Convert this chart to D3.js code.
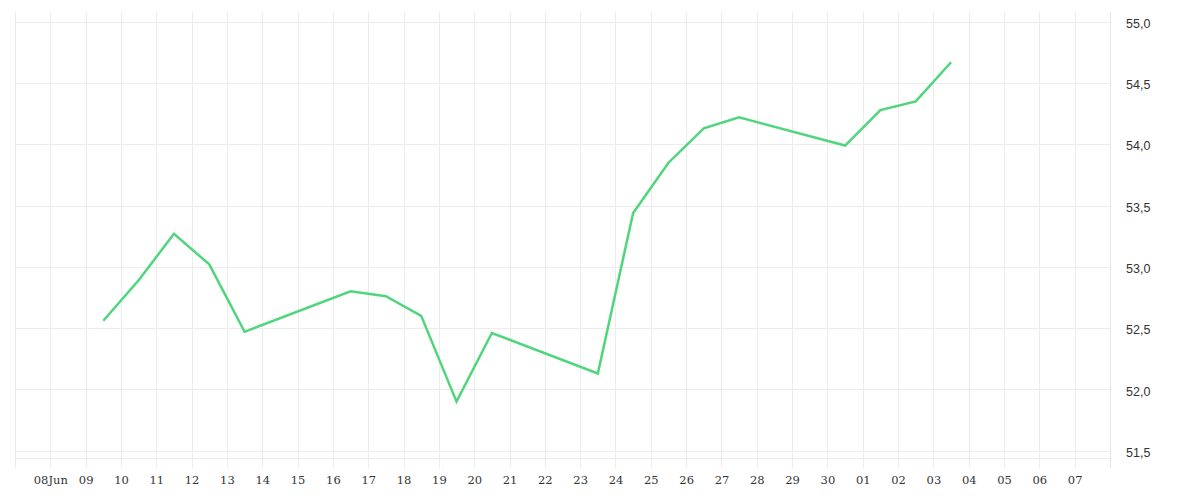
<!DOCTYPE html>
<html>
<head>
<meta charset="utf-8">
<script src="https://cdn.jsdelivr.net/npm/d3@7"></script>
<style>
html,body{margin:0;padding:0;background:#fff;}
svg{display:block;}
</style>
</head>
<body>
<svg id="chart" width="1200" height="500"></svg>
<script>
// Data: dates (noon of each trading day) and values
const dates = ["2025-06-09","2025-06-10","2025-06-11","2025-06-12","2025-06-13",
  "2025-06-16","2025-06-17","2025-06-18","2025-06-19","2025-06-20",
  "2025-06-23","2025-06-24","2025-06-25","2025-06-26","2025-06-27",
  "2025-06-30","2025-07-01","2025-07-02","2025-07-03"];
const values = [52.56,52.89,53.27,53.02,52.47,
  52.80,52.76,52.60,51.90,52.46,
  52.13,53.44,53.85,54.13,54.22,
  53.99,54.28,54.35,54.67];
const yTicks = [51.5,52.0,52.5,53.0,53.5,54.0,54.5,55.0];
const xDomain = ["2025-06-07","2025-07-08"];
const yDomain = [51.44,55.08];

(function(){
const parse = d3.utcParse("%Y-%m-%d");
const data = dates.map((d,i)=>({date: d3.utcHour.offset(parse(d),12), value: values[i]}));

const svg = d3.select("#chart");
const mLeft = 15, mRight = 1110, mTop = 12, mBottom = 458;

const x = d3.scaleUtc().domain(xDomain.map(parse)).range([mLeft,mRight]);
const y = d3.scaleLinear().domain(yDomain).range([mBottom,mTop]);

const gridColor = "#ececec";
const days = d3.utcDay.range(parse(xDomain[0]), d3.utcDay.offset(parse(xDomain[1]),1));

// vertical grid
svg.append("g").selectAll("line").data(days).join("line")
  .attr("x1",d=>Math.round(x(d))+0.5).attr("x2",d=>Math.round(x(d))+0.5)
  .attr("y1",mTop).attr("y2",468)
  .attr("stroke",gridColor).attr("stroke-width",1);

// horizontal grid
svg.append("g").selectAll("line").data(yTicks).join("line")
  .attr("x1",mLeft).attr("x2",mRight)
  .attr("y1",d=>Math.round(y(d))+0.5).attr("y2",d=>Math.round(y(d))+0.5)
  .attr("stroke",gridColor).attr("stroke-width",1);

// bottom baseline
svg.append("line").attr("x1",mLeft).attr("x2",mRight)
  .attr("y1",mBottom+0.5).attr("y2",mBottom+0.5)
  .attr("stroke",gridColor);

// right axis
const yAxis = d3.axisRight(y).tickValues(yTicks)
  .tickFormat(d=>d3.format(".1f")(d).replace(".",","))
  .tickSize(0).tickPadding(16);
const gy = svg.append("g").attr("transform",`translate(${mRight},0)`).call(yAxis);
gy.select(".domain").attr("d",`M0.5,${mTop}V468`).attr("stroke","#e6e6e6");
gy.selectAll("text").attr("font-family","'Liberation Sans', Arial, sans-serif")
  .attr("font-size",12.5).attr("fill","#333").attr("dy","0.45em");

// bottom axis labels
const labelDays = days.filter(d=>d>parse(xDomain[0]) && d<parse(xDomain[1]));
const xAxis = d3.axisBottom(x).tickValues(labelDays)
  .tickFormat(d=>{
    const s = d3.utcFormat("%d")(d);
    return (d.getUTCDate()===8 && d.getUTCMonth()===5) ? s + "Jun" : s;
  })
  .tickSize(0).tickPadding(18);
const gx = svg.append("g").attr("transform",`translate(0,${mBottom})`).call(xAxis);
gx.select(".domain").remove();
gx.selectAll("text").attr("font-family","'DejaVu Serif', serif")
  .attr("font-size",11.5).attr("fill","#333");

// line
const line = d3.line().x(d=>x(d.date)).y(d=>y(d.value));
svg.append("path").datum(data).attr("d",line)
  .attr("fill","none").attr("stroke","#4fd67d").attr("stroke-width",2.5)
  .attr("stroke-linejoin","miter");
})();
</script>
</body>
</html>
